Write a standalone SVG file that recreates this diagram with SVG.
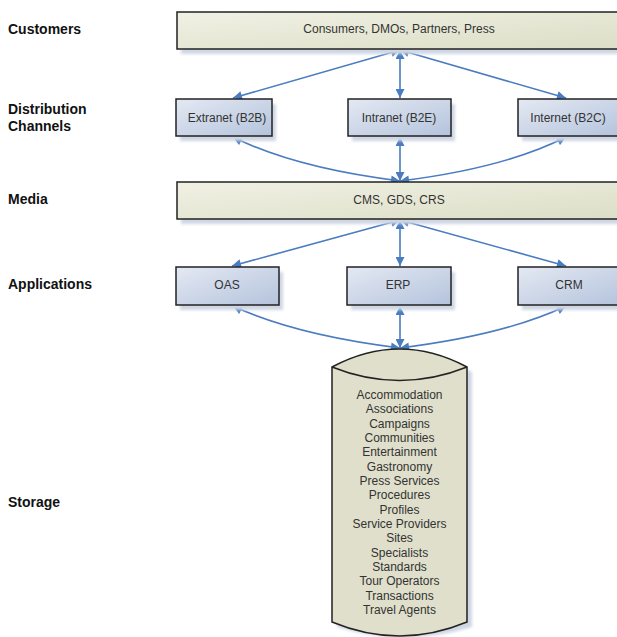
<svg xmlns="http://www.w3.org/2000/svg" width="617" height="637" viewBox="0 0 617 637">
  <defs>
    <linearGradient id="beige" x1="0" y1="0" x2="1" y2="1">
      <stop offset="0" stop-color="#f0f1e4"/>
      <stop offset="1" stop-color="#dcdec6"/>
    </linearGradient>
    <linearGradient id="blue" x1="0" y1="0" x2="1" y2="1">
      <stop offset="0" stop-color="#e4e9f3"/>
      <stop offset="1" stop-color="#b4c3dc"/>
    </linearGradient>
    <filter id="soft" x="-10%" y="-10%" width="120%" height="130%">
      <feGaussianBlur stdDeviation="1.5"/>
    </filter>
    <marker id="head" viewBox="0 0 10 10" refX="10" refY="5" markerWidth="10" markerHeight="9" markerUnits="userSpaceOnUse" orient="auto-start-reverse">
      <path d="M0,0 L10,5 L0,10 z" fill="#4a7cc0"/>
    </marker>
  </defs>
  <style>
    .label { font-family: "Liberation Sans", Arial, sans-serif; font-size: 14px; font-weight: bold; fill: #111; }
    .txt { font-family: "Liberation Sans", Arial, sans-serif; font-size: 12px; fill: #333; text-anchor: middle; }
    .box { stroke: #222; stroke-width: 1.5; }
    .shadow { fill: #cfd6e4; filter: url(#soft); }
    .link { fill: none; stroke: #4a7cc0; stroke-width: 1.6; marker-start: url(#head); marker-end: url(#head); }
  </style>
  <rect width="617" height="637" fill="#ffffff"/>

  <!-- layer titles -->
  <g id="layer-labels">
    <text class="label" x="8" y="34">Customers</text>
    <text class="label" x="8" y="114">Distribution</text>
    <text class="label" x="8" y="131">Channels</text>
    <text class="label" x="8" y="204">Media</text>
    <text class="label" x="8" y="289">Applications</text>
    <text class="label" x="8" y="507">Storage</text>
  </g>

  <!-- connectors -->
  <g id="connectors">
    <path class="link" d="M400,50 L233,98"/>
    <path class="link" d="M400,50 L400,98"/>
    <path class="link" d="M400,50 L566,98"/>
    <path class="link" d="M233,137 Q295,168 400,181"/>
    <path class="link" d="M400,137 L400,181"/>
    <path class="link" d="M566,137 Q505,168 400,181"/>
    <path class="link" d="M400,220 L232,266"/>
    <path class="link" d="M400,220 L400,266"/>
    <path class="link" d="M400,220 L566,266"/>
    <path class="link" d="M233,306 Q295,335 400,348"/>
    <path class="link" d="M400,306 L400,348"/>
    <path class="link" d="M566,306 Q505,335 400,348"/>
  </g>

  <g id="customers">
    <rect class="shadow" x="181" y="17" width="440" height="37"/>
    <rect class="box" x="177" y="12" width="445" height="37" fill="url(#beige)"/>
    <text class="txt" x="399" y="33">Consumers, DMOs, Partners, Press</text>
  </g>

  <g id="extranet">
    <rect class="shadow" x="180" y="104" width="96" height="37"/>
    <rect class="box" x="176" y="99" width="96" height="37" fill="url(#blue)"/>
    <text class="txt" x="227" y="122">Extranet (B2B)</text>
  </g>
  <g id="intranet">
    <rect class="shadow" x="352" y="104" width="103" height="37"/>
    <rect class="box" x="348" y="99" width="103" height="37" fill="url(#blue)"/>
    <text class="txt" x="399" y="122">Intranet (B2E)</text>
  </g>
  <g id="internet">
    <rect class="shadow" x="522" y="104" width="100" height="37"/>
    <rect class="box" x="518" y="99" width="104" height="37" fill="url(#blue)"/>
    <text class="txt" x="568" y="122">Internet (B2C)</text>
  </g>

  <g id="media">
    <rect class="shadow" x="181" y="187" width="440" height="37"/>
    <rect class="box" x="177" y="182" width="445" height="37" fill="url(#beige)"/>
    <text class="txt" x="399" y="204">CMS, GDS, CRS</text>
  </g>

  <g id="oas">
    <rect class="shadow" x="180" y="272" width="103" height="38"/>
    <rect class="box" x="176" y="267" width="103" height="38" fill="url(#blue)"/>
    <text class="txt" x="227" y="289">OAS</text>
  </g>
  <g id="erp">
    <rect class="shadow" x="351" y="272" width="104" height="38"/>
    <rect class="box" x="347" y="267" width="104" height="38" fill="url(#blue)"/>
    <text class="txt" x="398" y="289">ERP</text>
  </g>
  <g id="crm">
    <rect class="shadow" x="522" y="272" width="100" height="38"/>
    <rect class="box" x="518" y="267" width="104" height="38" fill="url(#blue)"/>
    <text class="txt" x="569" y="289">CRM</text>
  </g>

  <g id="storage">
    <path class="shadow" d="M337,372 Q404,336 472,372 L472,627 Q404,648 337,627 z"/>
    <path class="box" d="M332,367 Q399.5,331 467,367 L467,622 Q399.5,650 332,622 z" fill="#dfdfcb"/>
    <path fill="none" stroke="#222" stroke-width="1.5" d="M332,367 Q399.5,394 467,367"/>
    <text class="txt" x="399.5" y="399">Accommodation</text>
    <text class="txt" x="399.5" y="413.3">Associations</text>
    <text class="txt" x="399.5" y="427.7">Campaigns</text>
    <text class="txt" x="399.5" y="442">Communities</text>
    <text class="txt" x="399.5" y="456.3">Entertainment</text>
    <text class="txt" x="399.5" y="470.7">Gastronomy</text>
    <text class="txt" x="399.5" y="485">Press Services</text>
    <text class="txt" x="399.5" y="499.3">Procedures</text>
    <text class="txt" x="399.5" y="513.7">Profiles</text>
    <text class="txt" x="399.5" y="528">Service Providers</text>
    <text class="txt" x="399.5" y="542.3">Sites</text>
    <text class="txt" x="399.5" y="556.7">Specialists</text>
    <text class="txt" x="399.5" y="571">Standards</text>
    <text class="txt" x="399.5" y="585.3">Tour Operators</text>
    <text class="txt" x="399.5" y="599.7">Transactions</text>
    <text class="txt" x="399.5" y="614">Travel Agents</text>
  </g>
</svg>
